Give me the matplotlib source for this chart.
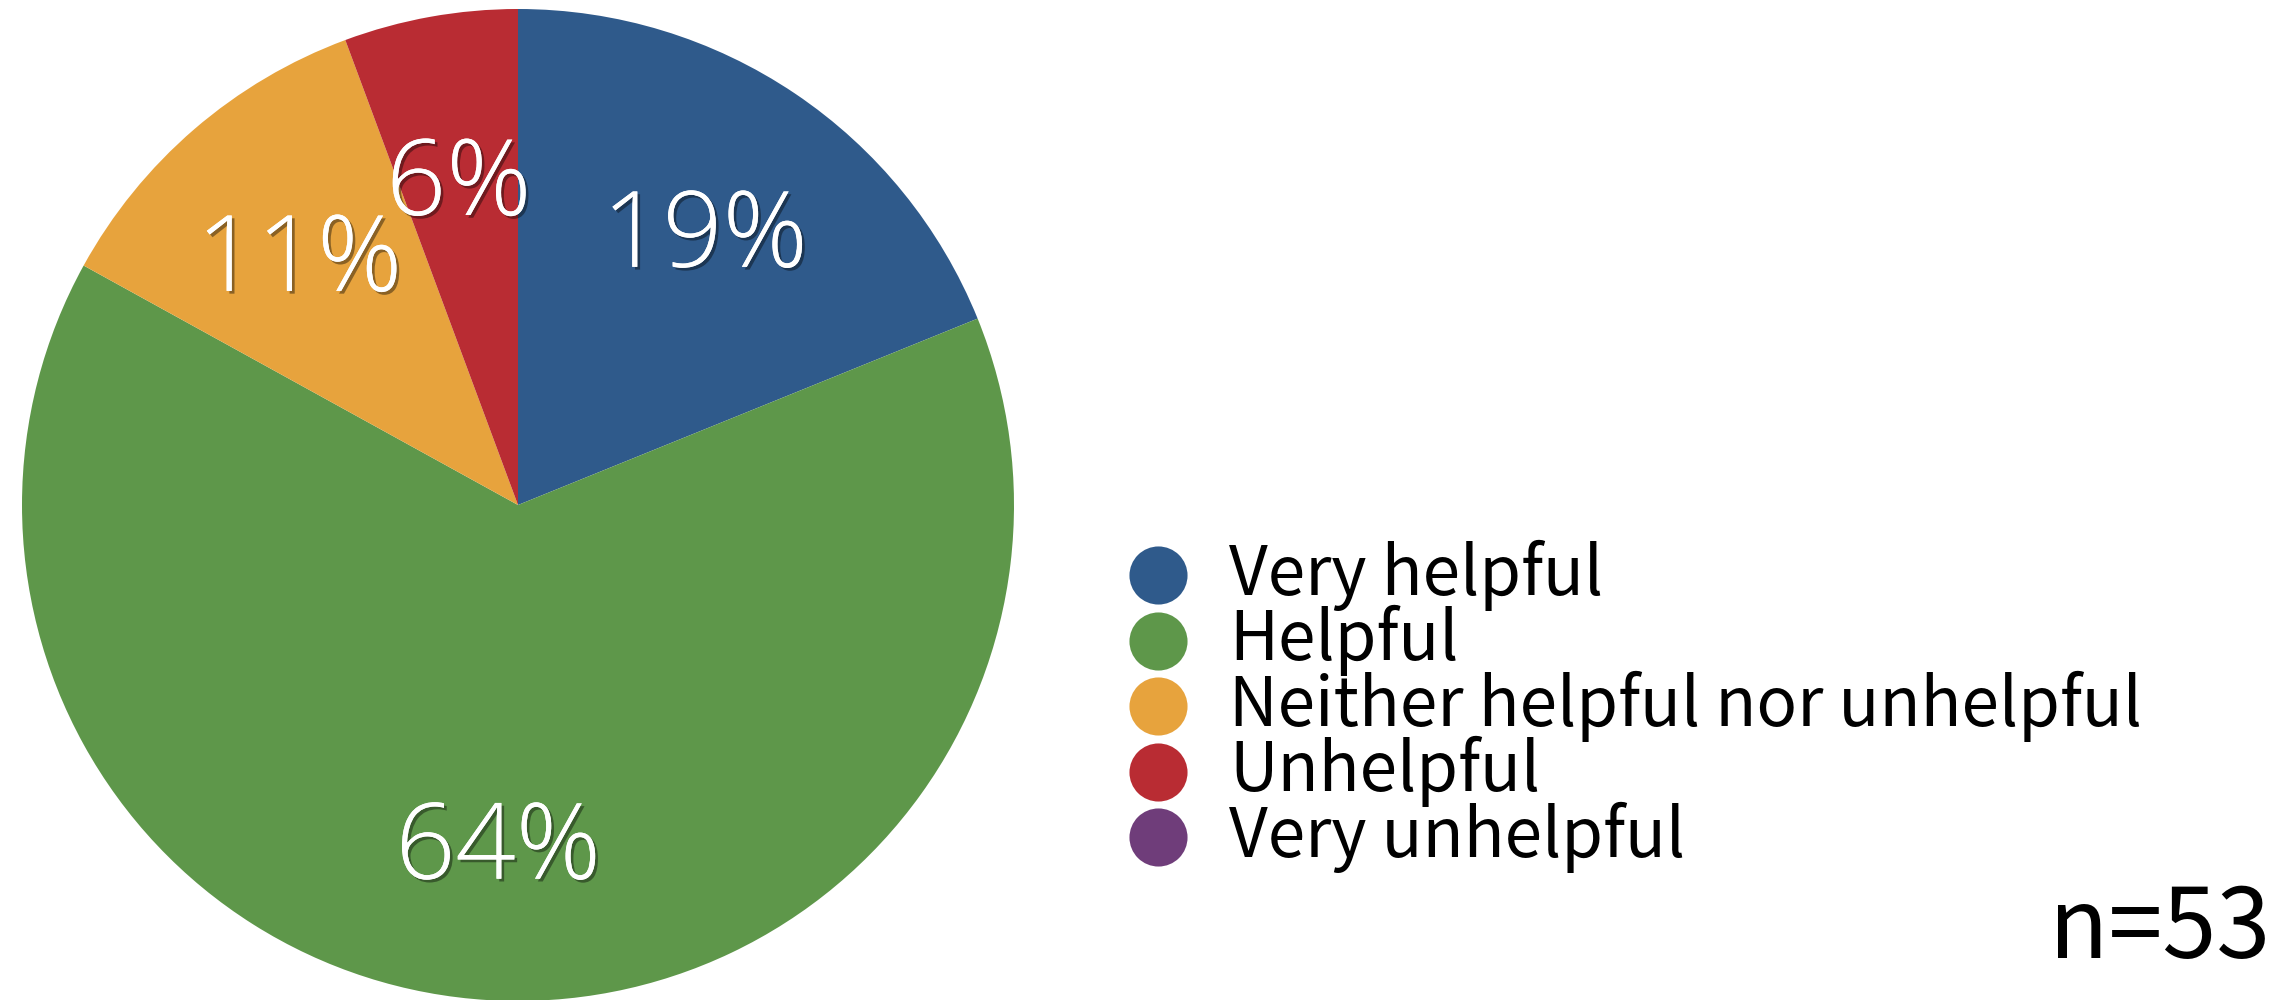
import matplotlib
matplotlib.use("Agg")
import matplotlib.pyplot as plt
import matplotlib.patheffects as pe

categories = ["Very helpful", "Helpful", "Neither helpful nor unhelpful",
              "Unhelpful", "Very unhelpful"]
counts = [10, 34, 6, 3, 0]
colors = ["#2F5A8B", "#5E974A", "#E7A33D", "#B92C33", "#6F3D7A"]
n_total = sum(counts)

W, H = 2284, 1000
fig = plt.figure(figsize=(W / 100, H / 100), dpi=100)
ax = fig.add_axes([0, 0, 1, 1])

shadow = [pe.withSimplePatchShadow(offset=(2, -2), shadow_rgbFace="black", alpha=0.4),
          pe.Normal()]


def pct_label(p):
    return f"{p:.0f}%" if p >= 0.5 else ""


wedges, texts, autotexts = ax.pie(
    counts, colors=colors, startangle=90, counterclock=False,
    center=(518, 495), radius=496, autopct=pct_label, pctdistance=0.675,
    frame=True,
    textprops=dict(color="white", fontsize=76, family=["Open Sans", "DejaVu Sans"],
                   fontweight="light"),
)
ax.set_xlim(0, W)
ax.set_ylim(0, H)
ax.set_aspect("auto")
ax.set_axis_off()
for t in autotexts:
    x, y = t.get_position()
    t.set_position((x, y - 12))
    t.set_path_effects(shadow)

# Legend drawn as a column of colored dots with labels
x_dot, x_txt = 1158, 1229
y0, dy = 425, 65.5
for i, (lab, col) in enumerate(zip(categories, colors)):
    y = y0 - i * dy
    ax.scatter([x_dot], [y], s=58 ** 2 * 0.52, color=col, marker="o", linewidths=0, zorder=3)
    ax.text(x_txt, y, lab, fontsize=48.5, va="center", ha="left", color="black",
            family=["Noto Sans CJK JP", "DejaVu Sans"])

ax.text(2270, 42, f"n={n_total}", fontsize=70, ha="right", va="baseline", color="black",
        family=["Noto Sans CJK JP", "DejaVu Sans"])

fig.savefig("out.png", dpi=100, facecolor="white")
